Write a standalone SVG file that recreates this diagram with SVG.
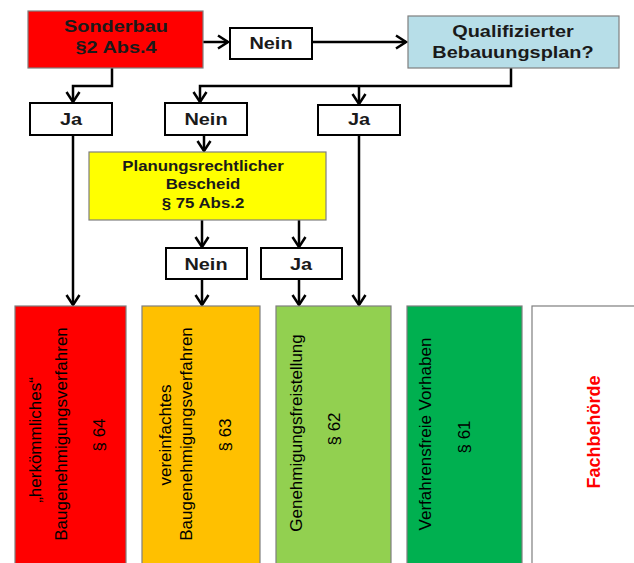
<svg xmlns="http://www.w3.org/2000/svg" width="634" height="563" viewBox="0 0 634 563">
<style>
  .box{stroke:#7f7f7f;stroke-width:1.2}
  .small{fill:#ffffff;stroke:#000000;stroke-width:2}
  .lbl{font-family:"Liberation Sans",Arial,sans-serif;font-weight:bold;fill:#1a1a1a;text-anchor:middle}
  .vt{font-family:"Liberation Sans",Arial,sans-serif;font-size:17px;fill:#000000;text-anchor:middle}
  .conn{fill:none;stroke:#000000;stroke-width:2.5;marker-end:url(#arr)}
</style>
<defs>
  <marker id="arr" markerUnits="userSpaceOnUse" viewBox="-13 -9 15 18" markerWidth="15" markerHeight="18" refX="0" refY="0" orient="auto">
    <path d="M-10,-6.5 L0,0 L-10,6.5" fill="none" stroke="#000000" stroke-width="2.5" stroke-linejoin="miter"/>
  </marker>
</defs>
<rect width="634" height="563" fill="#ffffff"/>

<g id="connectors">
  <path class="conn" d="M203,42 H228"/>
  <path class="conn" d="M312,42 H406"/>
  <path class="conn" d="M112,68 V86 H73 V102"/>
  <path class="conn" d="M511,68 V86 H200 V102"/>
  <path class="conn" d="M359,86 V104"/>
  <path class="conn" d="M204,135 V151"/>
  <path class="conn" d="M73,135 V305"/>
  <path class="conn" d="M359,135 V305"/>
  <path class="conn" d="M202,220 V247"/>
  <path class="conn" d="M299,220 V247"/>
  <path class="conn" d="M202,279 V305"/>
  <path class="conn" d="M299,279 V305"/>
</g>

<g id="sonderbau">
  <rect class="box" x="28" y="11" width="175" height="57" fill="#ff0000"/>
  <text class="lbl" font-size="17" transform="translate(116,32) scale(1.17,1)">Sonderbau</text>
  <text class="lbl" font-size="17" transform="translate(116,53) scale(1.17,1)">§2 Abs.4</text>
</g>

<g id="nein1">
  <rect class="small" x="230" y="28" width="82" height="31"/>
  <text class="lbl" font-size="17" transform="translate(271,49) scale(1.17,1)">Nein</text>
</g>

<g id="qualifiziert">
  <rect class="box" x="408" y="16" width="211" height="52" fill="#b7dee8"/>
  <text class="lbl" font-size="17" transform="translate(513,37) scale(1.17,1)">Qualifizierter</text>
  <text class="lbl" font-size="17" transform="translate(513,58) scale(1.17,1)">Bebauungsplan?</text>
</g>

<g id="ja1">
  <rect class="small" x="30" y="103" width="82" height="32"/>
  <text class="lbl" font-size="17" transform="translate(71,125) scale(1.17,1)">Ja</text>
</g>

<g id="nein2">
  <rect class="small" x="165" y="103" width="82" height="32"/>
  <text class="lbl" font-size="17" transform="translate(206,125) scale(1.17,1)">Nein</text>
</g>

<g id="ja2">
  <rect class="small" x="318" y="105" width="82" height="30"/>
  <text class="lbl" font-size="17" transform="translate(359,125) scale(1.17,1)">Ja</text>
</g>

<g id="bescheid">
  <rect class="box" x="89" y="152" width="237" height="68" fill="#ffff00"/>
  <text class="lbl" font-size="14" transform="translate(203,171) scale(1.2,1)">Planungsrechtlicher</text>
  <text class="lbl" font-size="14" transform="translate(203,189) scale(1.2,1)">Bescheid</text>
  <text class="lbl" font-size="14" transform="translate(203,208) scale(1.2,1)">§ 75 Abs.2</text>
</g>

<g id="nein3">
  <rect class="small" x="166" y="248" width="81" height="31"/>
  <text class="lbl" font-size="17" transform="translate(206,270) scale(1.17,1)">Nein</text>
</g>

<g id="ja3">
  <rect class="small" x="261" y="248" width="81" height="31"/>
  <text class="lbl" font-size="17" transform="translate(301,270) scale(1.17,1)">Ja</text>
</g>

<g id="verfahren64">
  <rect class="box" x="15" y="306" width="111" height="262" fill="#ff0000"/>
  <text class="vt" transform="translate(41,440) rotate(-90)">„herkömmliches“</text>
  <text class="vt" transform="translate(67,434) rotate(-90)">Baugenehmigungsverfahren</text>
  <text class="vt" transform="translate(105,435) rotate(-90)">§ 64</text>
</g>

<g id="verfahren63">
  <rect class="box" x="142" y="306" width="118" height="262" fill="#ffc000"/>
  <text class="vt" transform="translate(171,435) rotate(-90)">vereinfachtes</text>
  <text class="vt" transform="translate(192,434) rotate(-90)">Baugenehmigungsverfahren</text>
  <text class="vt" transform="translate(231,435) rotate(-90)">§ 63</text>
</g>

<g id="freistellung62">
  <rect class="box" x="276" y="306" width="115" height="262" fill="#92d050"/>
  <text class="vt" transform="translate(302,433) rotate(-90)">Genehmigungsfreistellung</text>
  <text class="vt" transform="translate(340,429) rotate(-90)">§ 62</text>
</g>

<g id="verfahrensfrei61">
  <rect class="box" x="407" y="306" width="115" height="262" fill="#00b050"/>
  <text class="vt" transform="translate(431,434) rotate(-90)">Verfahrensfreie Vorhaben</text>
  <text class="vt" transform="translate(470,437) rotate(-90)">§ 61</text>
</g>

<g id="fachbehoerde">
  <rect class="box" x="532" y="306" width="110" height="262" fill="#ffffff"/>
  <text transform="translate(600,432) rotate(-90)" font-family="Liberation Sans, Arial, sans-serif" font-weight="bold" font-size="18" fill="#ff0000" text-anchor="middle">Fachbehörde</text>
</g>
</svg>
